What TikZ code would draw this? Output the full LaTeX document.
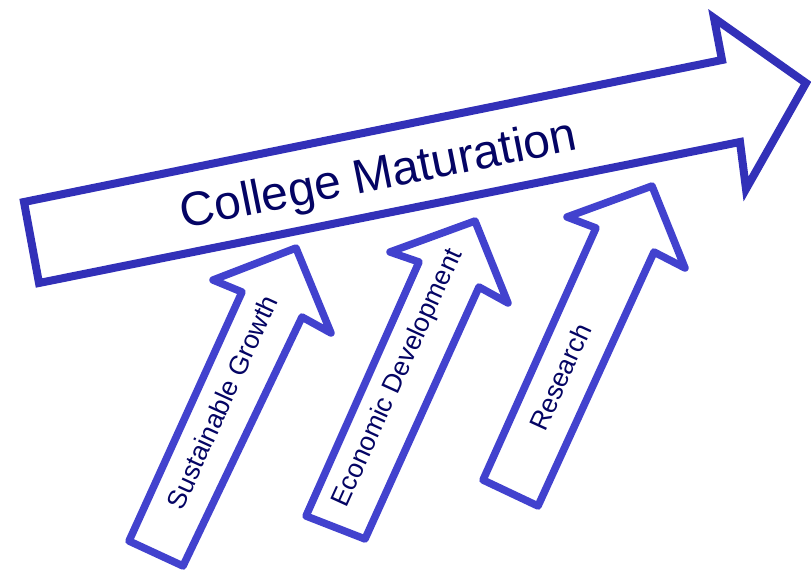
\documentclass[tikz,border=0pt]{standalone}
\usepackage{fontspec}
\setmainfont{Liberation Sans}
\definecolor{mainblue}{RGB}{50,48,184}
\definecolor{smallblue}{RGB}{66,66,206}
\definecolor{navy}{RGB}{4,4,100}
\begin{document}
\begin{tikzpicture}[x=1pt,y=-1pt,
  bigarrow/.style={draw=mainblue,line width=8pt,fill=white,line join=miter,miter limit=10},
  smallarrow/.style={draw=smallblue,line width=7.5pt,fill=white,line join=round},
  bigtext/.style={text=navy,font=\fontsize{48}{50}\selectfont,inner sep=0pt},
  smalltext/.style={text=navy,font=\fontsize{26.5}{28}\selectfont,inner sep=0pt,rotate=65.5}]
\useasboundingbox (0,0) rectangle (811,571);
% main arrow
\draw[bigarrow] (24,202) -- (39,283) -- (740,142) -- (746,189) -- (806,83) -- (714,18) -- (722,60) -- cycle;
\node[bigtext,rotate=11.3] (main) at (379,177) {College Maturation};
% small arrow 1
\draw[smallarrow] (296,248) -- (331,333) -- (302,317) -- (183,566) -- (129,541) -- (242,292) -- (213,280) -- cycle;
\node[smalltext] (sg) at (222,402) {Sustainable Growth};
% small arrow 2
\draw[smallarrow] (475,221) -- (508,303) -- (479,287) -- (365,539) -- (306,516) -- (419,262) -- (390,252) -- cycle;
\node[smalltext] (ed) at (398,378) {Economic Development};
% small arrow 3
\draw[smallarrow] (652,186) -- (685,268) -- (654,252) -- (538,506) -- (483,480) -- (596,228) -- (567,217) -- cycle;
\node[smalltext] (rs) at (560,377) {Research};
\end{tikzpicture}
\end{document}
